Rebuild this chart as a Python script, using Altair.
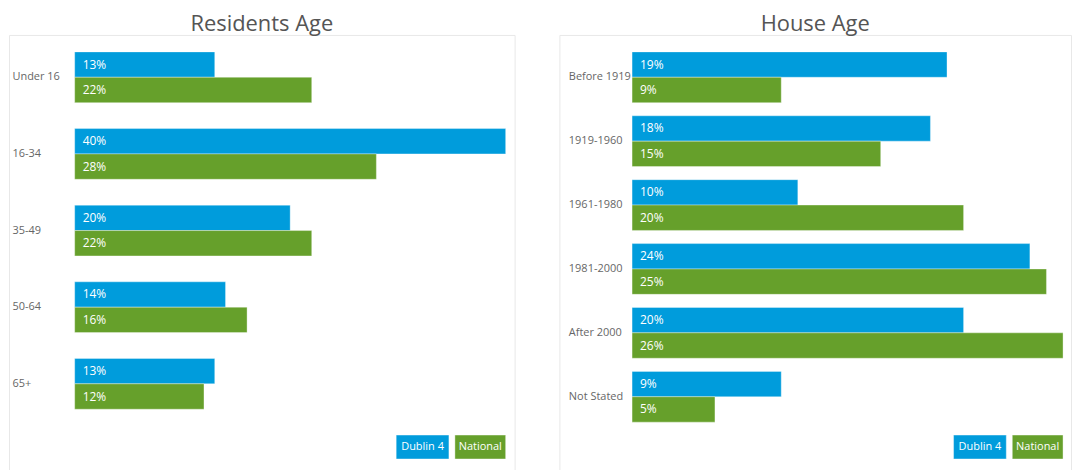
import altair as alt
import pandas as pd

series = ["Dublin 4", "National"]
colors = ["#009CDC", "#66A02B"]

res_cats = ["Under 16", "16-34", "35-49", "50-64", "65+"]
res_dublin = [13, 40, 20, 14, 13]
res_national = [22, 28, 22, 16, 12]

house_cats = ["Before 1919", "1919-1960", "1961-1980", "1981-2000", "After 2000", "Not Stated"]
house_dublin = [19, 18, 10, 24, 20, 9]
house_national = [9, 15, 20, 25, 26, 5]

FONT = "Open Sans"


def make_df(cats, d, n):
    rows = []
    for c, a, b in zip(cats, d, n):
        rows.append({"cat": c, "series": series[0], "value": a, "label": f"{a}%"})
        rows.append({"cat": c, "series": series[1], "value": b, "label": f"{b}%"})
    return pd.DataFrame(rows)


def panel(title, cats, d, n, xmax, width, xrange, yrange, pad_inner, label_off):
    df = make_df(cats, d, n)
    base = alt.Chart(df)
    y = alt.Y(
        "cat:N", sort=cats,
        scale=alt.Scale(range=yrange, paddingInner=pad_inner, paddingOuter=0),
        axis=alt.Axis(title=None, orient="left", labelAlign="left", labelPadding=0,
                      ticks=False, domain=False, offset=label_off, labelFont=FONT,
                      labelFontSize=11, labelColor="#666666"),
    )
    yoff = alt.YOffset("series:N", sort=series, scale=alt.Scale(paddingInner=0, paddingOuter=0))
    x = alt.X("value:Q", scale=alt.Scale(domain=[0, xmax], range=xrange), axis=None)
    bars = base.mark_bar(stroke="white", strokeOpacity=0.35, strokeWidth=1).encode(
        x=x, y=y, yOffset=yoff,
        color=alt.Color("series:N", scale=alt.Scale(domain=series, range=colors), legend=None),
    )
    text = base.mark_text(align="left", baseline="middle", dx=8, font=FONT,
                          fontSize=12, color="white").encode(
        x=alt.datum(0), y=y, yOffset=yoff, text="label:N")

    end = xrange[1]
    leg_layers = []
    boxes = [(end - 110, end - 57), (end - 51, end)]
    for s, col, (x0, x1) in zip(series, colors, boxes):
        ld = alt.Chart(pd.DataFrame({"series": [s]}))
        leg_layers.append(ld.mark_rect(stroke="white", strokeOpacity=0.4).encode(
            x=alt.value(x0), x2=alt.value(x1), y=alt.value(402), y2=alt.value(426),
            color=alt.value(col)))
        leg_layers.append(ld.mark_text(font=FONT, fontSize=11, color="white",
                                       baseline="middle", align="center").encode(
            x=alt.value((x0 + x1) / 2), y=alt.value(414), text="series:N"))

    return alt.layer(bars, text, *leg_layers).properties(
        width=width, height=440, title=title)


left = panel("Residents Age", res_cats, res_dublin, res_national, 40, 508,
             [66, 499], [17, 376], 0.338, -3)
right = panel("House Age", house_cats, house_dublin, house_national, 26, 514,
              [73, 506], [17, 389], 0.2056, -9)

chart = alt.hconcat(left, right, spacing=43).properties(
    padding={"top": 3, "left": 0, "right": 0, "bottom": 0}).configure_view(
    stroke="#e8e8e8").configure_title(
    font=FONT, fontSize=22, color="#555555", fontWeight="normal", anchor="middle", offset=-1)

chart.save("out.html", embed_options={"renderer": "svg", "actions": False})
